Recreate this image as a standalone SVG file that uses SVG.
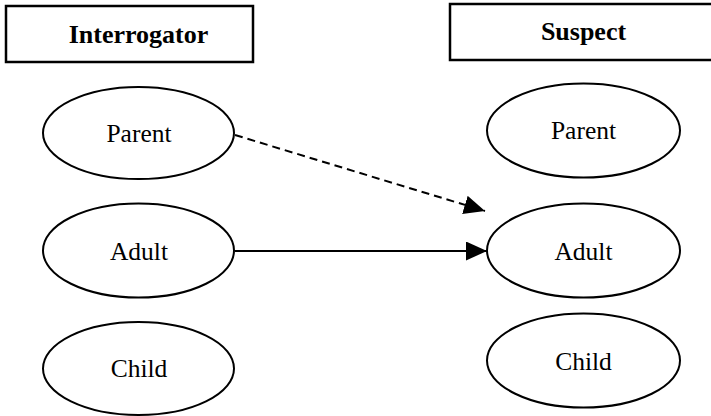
<svg xmlns="http://www.w3.org/2000/svg" width="711" height="416" viewBox="0 0 711 416">
<style>
.box{fill:#fff;stroke:#000;stroke-width:2.5}
.node{fill:#fff;stroke:#000;stroke-width:2}
.lbl{font-family:"Liberation Serif","Times New Roman",serif;font-size:25.5px;fill:#000;text-anchor:middle}
.ttl{font-family:"Liberation Serif","Times New Roman",serif;font-size:26px;font-weight:bold;fill:#000;text-anchor:middle}
.edge{stroke:#000;stroke-width:2;fill:none}
</style>
<defs>
<marker id="ah" markerUnits="userSpaceOnUse" markerWidth="22" markerHeight="20" refX="21" refY="9.5" orient="auto">
<path d="M0,0 L21,9.5 L0,19 Z" fill="#000"/>
</marker>
</defs>
<rect width="711" height="416" fill="#fff"/>
<g id="interrogator">
<rect class="box" x="6" y="6" width="247" height="56"/>
<text class="ttl" x="138.5" y="43">Interrogator</text>
</g>
<g id="suspect">
<rect class="box" x="450" y="4" width="270" height="56"/>
<text class="ttl" x="583.5" y="40">Suspect</text>
</g>
<g id="i-parent">
<ellipse class="node" cx="138.5" cy="133" rx="95.5" ry="46"/>
<text class="lbl" x="139" y="142">Parent</text>
</g>
<g id="i-adult">
<ellipse class="node" cx="138.5" cy="250.5" rx="95.5" ry="47"/>
<text class="lbl" x="139" y="260">Adult</text>
</g>
<g id="i-child">
<ellipse class="node" cx="138.5" cy="368.5" rx="95.5" ry="46.5"/>
<text class="lbl" x="139" y="377">Child</text>
</g>
<g id="s-parent">
<ellipse class="node" cx="583.5" cy="130.5" rx="96.5" ry="47"/>
<text class="lbl" x="583.5" y="139">Parent</text>
</g>
<g id="s-adult">
<ellipse class="node" cx="583.5" cy="250.5" rx="96.5" ry="47"/>
<text class="lbl" x="583.5" y="260">Adult</text>
</g>
<g id="s-child">
<ellipse class="node" cx="583.5" cy="360.5" rx="96.5" ry="47"/>
<text class="lbl" x="583.5" y="370">Child</text>
</g>
<g id="connectors">
<line class="edge" x1="235" y1="135" x2="485" y2="211" stroke-dasharray="8,5" marker-end="url(#ah)"/>
<line class="edge" x1="235" y1="251" x2="487" y2="251" marker-end="url(#ah)"/>
</g>
</svg>
